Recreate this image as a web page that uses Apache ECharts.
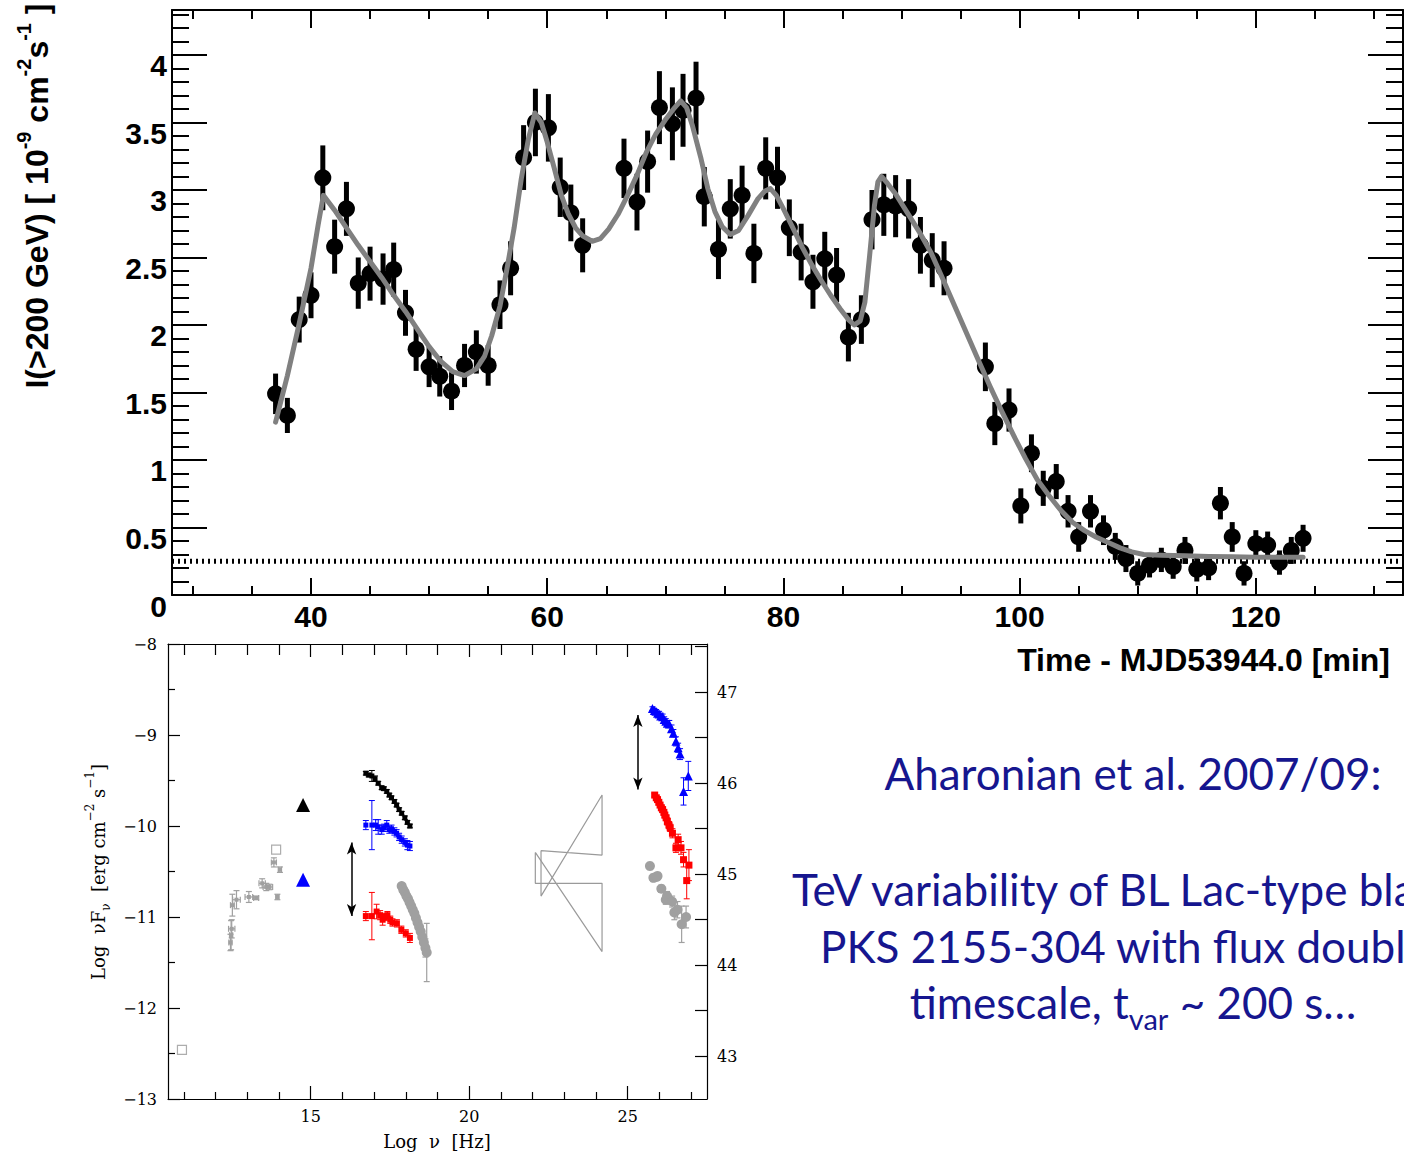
<!DOCTYPE html>
<html><head><meta charset="utf-8">
<script src="https://cdn.jsdelivr.net/npm/echarts@6/dist/echarts.min.js"></script>
<style>html,body{margin:0;padding:0;background:#fff;}#c{width:1404px;height:1156px;}</style>
</head><body><div id="c"></div>
<script>
// ---------- Light curve (top panel) ----------
const lcTime = [37.0,38.0,39.0,40.0,41.0,42.0,43.0,44.0,45.0,46.1,47.0,48.0,48.9,50.0,50.9,51.9,53.0,54.0,55.0,56.0,56.9,58.0,59.0,60.1,61.1,62.0,63.0,66.5,67.6,68.5,69.5,70.6,71.5,72.6,73.3,74.5,75.5,76.5,77.5,78.5,79.5,80.5,81.5,82.5,83.5,84.5,85.5,86.6,87.5,88.5,89.5,90.6,91.6,92.6,93.6,97.1,97.9,99.1,100.1,101.0,102.0,103.1,104.1,105.0,106.0,107.1,108.1,109.0,110.0,111.0,112.0,113.0,114.0,115.0,116.0,117.0,118.0,119.0,120.0,121.0,122.0,123.0,124.0];
const lcFlux = [1.49,1.33,2.04,2.22,3.09,2.58,2.86,2.31,2.38,2.34,2.41,2.09,1.82,1.69,1.62,1.51,1.70,1.80,1.70,2.15,2.42,3.24,3.50,3.46,3.02,2.83,2.59,3.16,2.91,3.21,3.61,3.49,3.59,3.68,2.95,2.56,2.86,2.96,2.53,3.16,3.09,2.72,2.54,2.32,2.49,2.37,1.91,2.04,2.78,2.89,2.88,2.86,2.59,2.48,2.42,1.69,1.27,1.37,0.66,1.05,0.79,0.84,0.62,0.43,0.62,0.48,0.36,0.27,0.16,0.22,0.26,0.21,0.33,0.19,0.20,0.68,0.43,0.16,0.38,0.37,0.24,0.33,0.42];
const lcErr = [0.15,0.13,0.17,0.17,0.24,0.20,0.20,0.19,0.20,0.19,0.20,0.17,0.16,0.15,0.15,0.14,0.16,0.16,0.15,0.18,0.20,0.24,0.25,0.25,0.22,0.21,0.20,0.22,0.21,0.23,0.27,0.27,0.27,0.27,0.22,0.22,0.22,0.22,0.22,0.23,0.23,0.21,0.21,0.20,0.20,0.20,0.18,0.18,0.22,0.23,0.23,0.22,0.21,0.20,0.20,0.18,0.16,0.16,0.13,0.14,0.13,0.13,0.12,0.11,0.12,0.11,0.10,0.10,0.09,0.09,0.09,0.09,0.10,0.09,0.09,0.12,0.11,0.09,0.10,0.10,0.09,0.10,0.10];
const fitTime = [37.0,38.0,39.0,40.0,40.6,41.05,42.0,43.0,44.0,45.0,46.0,47.0,48.0,49.0,50.0,51.0,52.0,53.0,54.0,54.7,55.3,56.0,56.6,57.2,57.8,58.4,58.95,59.5,60.0,60.6,61.2,61.8,62.4,63.0,63.8,64.5,65.2,66.0,66.8,67.6,68.4,69.2,70.0,70.7,71.3,71.8,72.3,73.0,73.6,74.2,74.8,75.5,76.2,77.0,77.8,78.4,78.9,79.4,80.0,80.8,81.6,82.4,83.2,84.0,84.8,85.5,86.0,86.5,86.9,87.3,87.7,88.0,88.3,88.8,89.5,90.5,91.5,92.5,93.5,94.5,95.5,96.5,97.5,98.5,99.5,100.5,101.5,102.5,103.5,104.5,105.5,106.5,107.5,108.5,109.5,110.5,112.0,114.0,116.0,118.0,120.0,122.0,124.0];
const fitFlux = [1.28,1.625,2.01,2.42,2.74,2.96,2.85,2.72,2.59,2.47,2.35,2.22,2.10,1.97,1.84,1.73,1.655,1.625,1.675,1.77,1.92,2.14,2.42,2.72,3.08,3.375,3.57,3.50,3.355,3.16,2.96,2.82,2.72,2.66,2.62,2.64,2.71,2.82,2.96,3.11,3.28,3.415,3.52,3.60,3.66,3.61,3.475,3.24,3.01,2.84,2.73,2.67,2.70,2.81,2.93,2.99,3.01,2.96,2.86,2.72,2.575,2.445,2.33,2.22,2.12,2.04,2.00,2.03,2.17,2.515,2.88,3.06,3.10,3.05,2.97,2.83,2.69,2.535,2.34,2.14,1.94,1.74,1.545,1.358,1.18,1.01,0.853,0.735,0.626,0.537,0.477,0.428,0.389,0.349,0.319,0.30,0.295,0.29,0.285,0.283,0.28,0.28,0.28];
const baselineFlux = 0.25;
const timeMajor = [40,60,80,100,120];
const timeMinor = [30,35,45,50,55,65,70,75,85,90,95,105,110,115,125,130];
const fluxMajor = [0,0.5,1,1.5,2,2.5,3,3.5,4];

// ---------- SED (bottom panel) ----------
const archX = [12.47,12.49,12.51,12.53,12.66,13.05,13.28,13.47,13.60,13.70,13.84,13.95,14.03];
const archY = [-11.28,-11.20,-11.13,-10.87,-10.81,-10.78,-10.79,-10.63,-10.67,-10.67,-10.40,-10.78,-10.48];
const archYErr = [0.09,0.16,0.10,0.12,0.10,0.06,0.02,0.05,0.04,0.03,0.05,0.03,0.03];
const archXErr = [0.05,0.05,0.10,0.06,0.12,0.12,0.08,0.10,0.10,0.10,0.08,0.05,0.05];
const openSqX = [10.94,13.91];
const openSqY = [-12.46,-10.26];
const optBlack = [14.76,-9.77];
const optBlue = [14.76,-10.59];
const xBlackX = [16.74,16.83,16.93,17.03,17.13,17.24,17.31,17.40,17.48,17.55,17.64,17.71,17.79,17.87,17.97,18.05,18.13];
const xBlackY = [-9.42,-9.44,-9.45,-9.48,-9.53,-9.58,-9.59,-9.62,-9.66,-9.69,-9.73,-9.77,-9.82,-9.86,-9.91,-9.96,-10.00];
const xBlackErr = [0.02,0.02,0.06,0.03,0.02,0.02,0.02,0.02,0.02,0.02,0.02,0.02,0.02,0.02,0.02,0.02,0.02];
const xBlueX = [16.74,16.93,17.05,17.13,17.24,17.31,17.40,17.48,17.55,17.64,17.71,17.79,17.87,17.97,18.05,18.13];
const xBlueY = [-9.99,-9.99,-9.99,-10.01,-10.04,-10.02,-9.99,-10.04,-10.03,-10.06,-10.08,-10.12,-10.15,-10.18,-10.21,-10.22];
const xBlueErr = [0.05,0.27,0.06,0.08,0.05,0.04,0.05,0.04,0.04,0.04,0.04,0.04,0.04,0.04,0.05,0.05];
const xRedX = [16.74,16.93,17.08,17.19,17.27,17.34,17.42,17.51,17.58,17.72,17.86,18.00,18.13];
const xRedY = [-10.99,-10.99,-10.94,-10.98,-11.03,-11.00,-10.98,-11.03,-11.06,-11.07,-11.14,-11.18,-11.23];
const xRedErr = [0.05,0.26,0.08,0.05,0.06,0.04,0.04,0.04,0.04,0.04,0.04,0.04,0.05];
const xGreyX = [17.87,17.92,17.97,18.02,18.07,18.12,18.17,18.22,18.27,18.32,18.37,18.42,18.47,18.52,18.57,18.62,18.66];
const xGreyY = [-10.66,-10.70,-10.73,-10.77,-10.80,-10.84,-10.88,-10.92,-10.96,-11.01,-11.06,-11.11,-11.16,-11.22,-11.28,-11.34,-11.39];
const xGreyErr = [0.02,0.02,0.02,0.02,0.02,0.02,0.02,0.02,0.02,0.02,0.02,0.02,0.03,0.03,0.04,0.10,0.32];
const vheBlueX = [25.78,25.84,25.89,25.94,25.99,26.04,26.10,26.15,26.20,26.25,26.31,26.38,26.44,26.52,26.59,26.65,26.76,26.91];
const vheBlueY = [-8.71,-8.73,-8.74,-8.76,-8.77,-8.79,-8.80,-8.83,-8.85,-8.87,-8.88,-8.93,-8.98,-9.07,-9.14,-9.21,-9.62,-9.45];
const vheBlueErr = [0.02,0.02,0.02,0.02,0.03,0.03,0.03,0.03,0.03,0.03,0.04,0.04,0.04,0.05,0.05,0.06,0.15,0.16];
const vheRedX = [25.85,25.90,25.94,25.98,26.02,26.06,26.10,26.14,26.17,26.21,26.25,26.30,26.34,26.41,26.52,26.59,26.68,26.76,26.86,26.93];
const vheRedY = [-9.66,-9.69,-9.71,-9.74,-9.77,-9.80,-9.82,-9.85,-9.88,-9.91,-9.95,-9.99,-10.02,-10.08,-10.24,-10.15,-10.24,-10.37,-10.60,-10.43];
const vheRedErr = [0.02,0.02,0.02,0.02,0.02,0.03,0.03,0.03,0.03,0.03,0.04,0.04,0.04,0.05,0.05,0.06,0.07,0.08,0.20,0.17];
const vheGreyX = [25.70,25.81,25.90,25.94,26.06,26.20,26.24,26.40,26.47,26.57,26.70,26.84];
const vheGreyY = [-10.44,-10.57,-10.56,-10.55,-10.69,-10.81,-10.77,-10.83,-10.95,-10.92,-11.08,-11.00];
const vheGreyErr = [0.04,0.04,0.04,0.04,0.04,0.05,0.05,0.06,0.08,0.09,0.20,0.12];
const bowAX = [22.265,24.19,24.19,22.265,22.265];
const bowAY = [-10.27,-10.32,-9.66,-10.77,-10.27];
const bowBX = [22.085,24.19,24.19,22.085,22.085];
const bowBY = [-10.29,-11.38,-10.63,-10.63,-10.29];
const arrowX = [16.29,-10.18,-10.99];
const arrowTeV = [25.32,-8.78,-9.60];
const nuMajor = [15,20,25];
const nuMinor = [11,12,13,14,16,17,18,19,21,22,23,24,26,27];
const sedMajor = [-13,-12,-11,-10,-9,-8];
const sedMinor = [-12.5,-11.5,-10.5,-9.5,-8.5];
const lumMajor = [43,44,45,46,47];
const lumMinor = [42.5,43.5,44.5,45.5,46.5,47.5];
const lumOffset = 55.53;

// ---------- helpers ----------
function zip(xs, ys, e1, e2) { return xs.map((x,i)=>[x, ys[i], e1 ? e1[i] : 0, e2 ? e2[i] : 0]); }
function axis(kind, grid, pos, min, max, ticks, len, lw, showLine, labels, lab) {
  return {
    type:'value', gridIndex:grid, position:pos, min:min, max:max,
    axisLine:{show:showLine, onZero:false, lineStyle:{color:'#000', width:lw}},
    axisTick:{show:true, inside:true, length:len, customValues:ticks, lineStyle:{color:'#000', width:lw}},
    axisLabel: labels ? Object.assign({show:true, customValues:labels}, lab) : {show:false},
    splitLine:{show:false}, minorTick:{show:false}, axisPointer:{show:false}
  };
}
function minorList(a, b, step, skip) {
  const out = [];
  for (let v = a; v <= b + 1e-9; v += step) {
    const r = Math.round(v*10)/10;
    if (!skip.some(s => Math.abs(s - r) < 1e-6)) out.push(r);
  }
  return out;
}
function errSeries(data, color, lw, cap, xi, yi, z) {
  return {
    type:'custom', xAxisIndex:xi, yAxisIndex:yi, z:z||2, silent:true, data:data,
    encode:{x:0, y:1},
    renderItem:function(params, api){
      const x = api.value(0), y = api.value(1), e = api.value(2), ex = api.value(3);
      const ch = [];
      if (e > 0) {
        const a = api.coord([x, y - e]), b = api.coord([x, y + e]);
        ch.push({type:'line', shape:{x1:a[0],y1:a[1],x2:b[0],y2:b[1]}, style:{stroke:color, lineWidth:lw}});
        if (cap > 0) {
          ch.push({type:'line', shape:{x1:a[0]-cap,y1:a[1],x2:a[0]+cap,y2:a[1]}, style:{stroke:color, lineWidth:lw}});
          ch.push({type:'line', shape:{x1:b[0]-cap,y1:b[1],x2:b[0]+cap,y2:b[1]}, style:{stroke:color, lineWidth:lw}});
        }
      }
      if (ex > 0) {
        const a = api.coord([x - ex, y]), b = api.coord([x + ex, y]);
        ch.push({type:'line', shape:{x1:a[0],y1:a[1],x2:b[0],y2:b[1]}, style:{stroke:color, lineWidth:lw}});
        if (cap > 0) {
          ch.push({type:'line', shape:{x1:a[0],y1:a[1]-cap,x2:a[0],y2:a[1]+cap}, style:{stroke:color, lineWidth:lw}});
          ch.push({type:'line', shape:{x1:b[0],y1:b[1]-cap,x2:b[0],y2:b[1]+cap}, style:{stroke:color, lineWidth:lw}});
        }
      }
      return {type:'group', children:ch};
    }
  };
}
function scat(data, symbol, size, color, xi, yi, extra) {
  return Object.assign({type:'scatter', xAxisIndex:xi, yAxisIndex:yi, symbol:symbol, symbolSize:size,
    data:data.map(d=>[d[0],d[1]]), itemStyle:{color:color, opacity:1}, z:3, silent:true}, extra||{});
}

const T0 = 28.23, T1 = 132.46, F0 = 0, F1 = 4.333;
const N0 = 10.5, N1 = 27.5, S0 = -13, S1 = -8;
const topLab = {fontFamily:'Liberation Sans', fontWeight:'bold', fontSize:30, color:'#000'};
const sedLab = {fontFamily:'DejaVu Serif', fontSize:16, color:'#000'};
const minus = v => (v < 0 ? '\u2212' + (-v) : String(v));
const fluxMinor = minorList(0, 4.3, 0.1, fluxMajor);

const xAxes = [
  axis('x',0,'bottom',T0,T1,timeMajor,17,2,true,timeMajor,Object.assign({margin:6}, topLab)),
  axis('x',0,'bottom',T0,T1,timeMinor,9,2,false,null),
  axis('x',0,'top',T0,T1,timeMajor,18,2,true,null),
  axis('x',0,'top',T0,T1,timeMinor,9,2,false,null),
  axis('x',1,'bottom',N0,N1,nuMajor,13,1.2,true,nuMajor,Object.assign({margin:9}, sedLab)),
  axis('x',1,'bottom',N0,N1,nuMinor,7,1.2,false,null),
  axis('x',1,'top',N0,N1,nuMajor,13,1.2,true,null),
  axis('x',1,'top',N0,N1,nuMinor,11,1.2,false,null)
];
const yAxes = [
  axis('y',0,'left',F0,F1,fluxMajor,35,2,true,fluxMajor,Object.assign({margin:5, verticalAlign:'top', lineHeight:22}, topLab)),
  axis('y',0,'left',F0,F1,fluxMinor,17,2,false,null),
  axis('y',0,'right',F0,F1,fluxMajor,35,2,true,null),
  axis('y',0,'right',F0,F1,fluxMinor,17,2,false,null),
  axis('y',1,'left',S0,S1,sedMajor,12,1.2,true,sedMajor,Object.assign({margin:11, formatter:minus}, sedLab)),
  axis('y',1,'left',S0,S1,sedMinor,7,1.2,false,null),
  axis('y',1,'right',S0+lumOffset,S1+lumOffset,lumMajor,12,1.2,true,lumMajor,Object.assign({margin:10}, sedLab)),
  axis('y',1,'right',S0+lumOffset,S1+lumOffset,lumMinor,12,1.2,false,null)
];

const series = [
  {type:'line', xAxisIndex:0, yAxisIndex:0, data:[[T0,baselineFlux],[T1,baselineFlux]], symbol:'none', silent:true, z:1,
   lineStyle:{color:'#000', width:5, type:[2,4]}},
  errSeries(zip(lcTime, lcFlux, lcErr), '#000', 5, 0, 0, 0, 2),
  scat(zip(lcTime, lcFlux), 'circle', 17, '#000', 0, 0),
  {type:'line', xAxisIndex:0, yAxisIndex:0, data:fitTime.map((t,i)=>[t, fitFlux[i]]), symbol:'none', silent:true, z:4,
   lineStyle:{color:'#808080', width:5, cap:'round', join:'round'}},

  // SED
  {type:'line', xAxisIndex:4, yAxisIndex:4, data:bowAX.map((x,i)=>[x,bowAY[i]]), symbol:'none', silent:true, z:2,
   lineStyle:{color:'#9a9a9a', width:1.2}},
  {type:'line', xAxisIndex:4, yAxisIndex:4, data:bowBX.map((x,i)=>[x,bowBY[i]]), symbol:'none', silent:true, z:2,
   lineStyle:{color:'#9a9a9a', width:1.2}},
  errSeries(zip(archX, archY, archYErr, archXErr), '#a0a0a0', 1.2, 3, 4, 4),
  scat(zip(archX, archY), 'rect', 4, '#a0a0a0', 4, 4),
  scat(zip(openSqX, openSqY), 'rect', 9, 'rgba(0,0,0,0)', 4, 4, {itemStyle:{color:'rgba(255,255,255,0)', borderColor:'#999', borderWidth:1.2}}),
  scat([optBlack], 'triangle', 14, '#000', 4, 4),
  scat([optBlue], 'triangle', 14, '#0000ff', 4, 4),
  errSeries(zip(xBlackX, xBlackY, xBlackErr), '#000', 1, 3, 4, 4),
  scat(zip(xBlackX, xBlackY), 'rect', 5, '#000', 4, 4),
  errSeries(zip(xBlueX, xBlueY, xBlueErr), '#0000ff', 1, 3, 4, 4),
  scat(zip(xBlueX, xBlueY), 'rect', 5, '#0000ff', 4, 4),
  errSeries(zip(xRedX, xRedY, xRedErr), '#ff0000', 1, 3, 4, 4),
  scat(zip(xRedX, xRedY), 'rect', 6, '#ff0000', 4, 4),
  errSeries(zip(xGreyX, xGreyY, xGreyErr), '#a0a0a0', 1.2, 3, 4, 4),
  scat(zip(xGreyX, xGreyY), 'circle', 10, '#a0a0a0', 4, 4),
  errSeries(zip(vheBlueX, vheBlueY, vheBlueErr), '#0000ff', 1, 3, 4, 4),
  scat(zip(vheBlueX, vheBlueY), 'triangle', 9, '#0000ff', 4, 4),
  errSeries(zip(vheRedX, vheRedY, vheRedErr), '#ff0000', 1, 3, 4, 4),
  scat(zip(vheRedX, vheRedY), 'rect', 7, '#ff0000', 4, 4),
  errSeries(zip(vheGreyX, vheGreyY, vheGreyErr), '#a0a0a0', 1.2, 3, 4, 4),
  scat(zip(vheGreyX, vheGreyY), 'circle', 10, '#a0a0a0', 4, 4),
  {type:'scatter', xAxisIndex:4, yAxisIndex:4, data:[], silent:true,
   markLine:{silent:true, symbol:['arrow','arrow'], symbolSize:[7,12], label:{show:false},
     lineStyle:{color:'#000', width:1.5, type:'solid'},
     data:[
       [{coord:[arrowX[0], arrowX[1]]},{coord:[arrowX[0], arrowX[2]]}],
       [{coord:[arrowTeV[0], arrowTeV[1]]},{coord:[arrowTeV[0], arrowTeV[2]]}]
     ]}}
];

const blue = '#16168f';
const txt = {fontFamily:'Lato', fontSize:44, fill:blue};
const graphic = [
  {type:'text', x:37, y:196, rotation:Math.PI/2, silent:true,
   style:{text:'{b|I(>200 GeV) [ 10}{s|-9}{b| cm}{s|-2}{b|s}{s|-1}{b| ]}', align:'center', verticalAlign:'middle',
     rich:{b:{fontFamily:'Liberation Sans', fontWeight:'bold', fontSize:32, lineHeight:46, fill:'#000'},
           s:{fontFamily:'Liberation Sans', fontWeight:'bold', fontSize:20, lineHeight:14, verticalAlign:'top', fill:'#000'}}}},
  {type:'text', x:1390, y:660, silent:true,
   style:{text:'Time - MJD53944.0 [min]', align:'right', verticalAlign:'middle', fontFamily:'Liberation Sans', fontWeight:'bold', fontSize:32, fill:'#000'}},
  {type:'text', x:98, y:872, rotation:Math.PI/2, silent:true,
   style:{text:'{a|Log  \u03bdF}{d|\u03bd}{a|  [erg cm}{u|\u22122}{a| s}{u|\u22121}{a|]}', align:'center', verticalAlign:'middle',
     rich:{a:{fontFamily:'DejaVu Serif', fontSize:18, lineHeight:28, fill:'#000'},
           u:{fontFamily:'DejaVu Serif', fontSize:12, lineHeight:12, verticalAlign:'top', fill:'#000'},
           d:{fontFamily:'DejaVu Serif', fontSize:12, lineHeight:12, verticalAlign:'bottom', fill:'#000'}}}},
  {type:'text', x:437, y:1141, silent:true,
   style:{text:'Log  \u03bd  [Hz]', align:'center', verticalAlign:'middle', fontFamily:'DejaVu Serif', fontSize:18, fill:'#000'}},
  {type:'text', x:1133, y:773, silent:true,
   style:Object.assign({text:'Aharonian et al. 2007/09:', align:'center', verticalAlign:'middle'}, txt)},
  {type:'text', x:792, y:889, silent:true,
   style:Object.assign({text:'TeV variability of BL Lac-type blazar', align:'left', verticalAlign:'middle'}, txt)},
  {type:'text', x:820, y:946, silent:true,
   style:Object.assign({text:'PKS 2155-304 with flux doubling', align:'left', verticalAlign:'middle'}, txt)},
  {type:'text', x:1133, y:1002, silent:true,
   style:{text:'{m|timescale, t}{s|var}{m| ~ 200 s\u2026}', align:'center', verticalAlign:'middle',
     rich:{m:{fontFamily:'Lato', fontSize:44, lineHeight:62, fill:blue},
           s:{fontFamily:'Lato', fontSize:29, lineHeight:6, verticalAlign:'bottom', fill:blue}}}}
];

const chart = echarts.init(document.getElementById('c'), null, {renderer:'svg', width:1404, height:1156});
chart.setOption({
  animation:false,
  backgroundColor:'#fff',
  grid:[
    {left:172, top:10, width:1231, height:585, containLabel:false},
    {left:168, top:644, width:539, height:455, containLabel:false}
  ],
  xAxis:xAxes, yAxis:yAxes, series:series, graphic:graphic
});
</script></body></html>
